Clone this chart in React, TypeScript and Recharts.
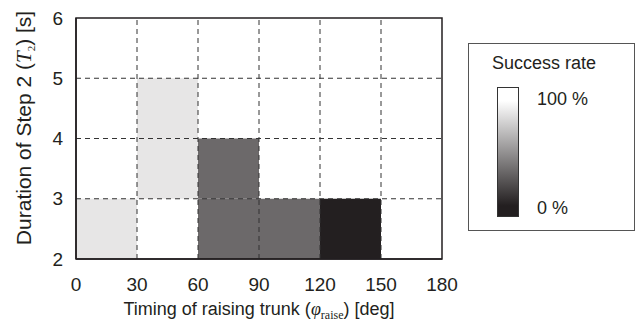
import { ComposedChart, XAxis, YAxis, ReferenceArea, ReferenceLine, Label, Scatter } from 'recharts';

// grid of trials: left edge of phi cell, lower edge of T2 cell, success rate [%]
const xTicks = [0, 30, 60, 90, 120, 150, 180];
const yTicks = [2, 3, 4, 5, 6];
const cellPhi = [0, 30, 30, 60, 60, 90, 120];
const cellT2 = [2, 3, 4, 2, 3, 2, 2];
const cellRate = [89, 89, 89, 33, 33, 33, 0];
const legendTitle = 'Success rate';
const legendTop = '100 %';
const legendBottom = '0 %';

const INK = '#231f20';
const FONT = '"Liberation Sans", Arial, sans-serif';
const SERIF = '"Liberation Serif", "Times New Roman", serif';

// black (#231f20) -> white, by rate
function grey(rate: number) {
    const t = rate / 100;
    const ch = (lo: number) => Math.round(lo + (255 - lo) * t).toString(16).padStart(2, '0');
    return '#' + ch(35) + ch(31) + ch(32);
}

const cells = cellPhi.map((x, i) => ({ x1: x, x2: x + 30, y1: cellT2[i], y2: cellT2[i] + 1, fill: grey(cellRate[i]) }));
// cell centres, only so the axes have data
const centres = cells.map(c => ({ x: (c.x1 + c.x2) / 2, y: (c.y1 + c.y2) / 2 }));

function XLabel(props: any) {
    const { viewBox } = props;
    const cx = viewBox.x + viewBox.width / 2;
    return (
        <text x={cx} y={viewBox.y + 56} textAnchor="middle" fontFamily={FONT} fontSize={18} fill={INK}>
            Timing of raising trunk (
            <tspan fontFamily={SERIF} fontStyle="italic">φ</tspan>
            <tspan fontFamily={SERIF} fontSize={12} dy={4}>raise</tspan>
            <tspan dy={-4}>) [deg]</tspan>
        </text>
    );
}

function YLabel() {
    const cy = 128;
    const cx = 31;
    return (
        <text x={cx} y={cy} transform={`rotate(-90 ${cx} ${cy})`} textAnchor="middle" fontFamily={FONT} fontSize={21} fill={INK}>
            Duration of Step 2 (
            <tspan fontFamily={SERIF} fontStyle="italic">T</tspan>
            <tspan fontFamily={SERIF} fontSize={11} dy={4}>2</tspan>
            <tspan dy={-4}>) [s]</tspan>
        </text>
    );
}

export default function App() {
    const tick = { fontFamily: FONT, fontSize: 19, fill: INK };
    return (
        <div style={{ position: 'absolute', left: 0, top: 0, width: 639, height: 328, background: '#fff' }}>
            <ComposedChart width={639} height={328} margin={{ top: 18, right: 197, bottom: 0, left: 0 }}>
                <XAxis
                    type="number"
                    dataKey="x"
                    domain={[0, 180]}
                    ticks={xTicks}
                    tickLine={false}
                    tickMargin={13}
                    height={69}
                    tick={tick}
                    stroke={INK}
                    strokeWidth={1.5}
                    interval={0}
                    allowDataOverflow
                >
                    <Label content={<XLabel />} />
                </XAxis>
                <YAxis
                    type="number"
                    dataKey="y"
                    domain={[2, 6]}
                    ticks={yTicks}
                    tickLine={false}
                    tickMargin={7}
                    width={76}
                    tick={tick}
                    stroke={INK}
                    strokeWidth={1.5}
                    interval={0}
                    allowDataOverflow
                >
                    <Label content={<YLabel />} />
                </YAxis>

                <Scatter data={centres} isAnimationActive={false} shape={() => <g />} />

                {cells.map((c, i) => (
                    <ReferenceArea key={'c' + i} x1={c.x1} x2={c.x2} y1={c.y1} y2={c.y2} fill={c.fill} fillOpacity={1} stroke="none" ifOverflow="visible" />
                ))}

                {xTicks.slice(1, -1).map(v => (
                    <ReferenceLine key={'vx' + v} x={v} stroke="#333" strokeDasharray="5 4" strokeWidth={1} />
                ))}
                {yTicks.slice(1, -1).map(v => (
                    <ReferenceLine key={'hy' + v} y={v} stroke="#333" strokeDasharray="5 4" strokeWidth={1} />
                ))}

                <ReferenceArea x1={0} x2={180} y1={2} y2={6} fill="none" stroke={INK} strokeWidth={1.5} ifOverflow="visible" />
            </ComposedChart>

            <div style={{ position: 'absolute', left: 468, top: 43, width: 167, height: 188, border: '1px solid #555', boxSizing: 'border-box', fontFamily: FONT, color: INK }}>
                <div style={{ position: 'absolute', left: 23, top: 9, fontSize: 18, whiteSpace: 'nowrap' }}>{legendTitle}</div>
                <div style={{ position: 'absolute', left: 28, top: 43, width: 22, height: 130, border: '1px solid #333', boxSizing: 'border-box', background: `linear-gradient(to bottom, #ffffff 10%, ${INK} 92%)` }} />
                <div style={{ position: 'absolute', left: 68, top: 45, fontSize: 18, whiteSpace: 'nowrap' }}>{legendTop}</div>
                <div style={{ position: 'absolute', left: 68, top: 154, fontSize: 18, whiteSpace: 'nowrap' }}>{legendBottom}</div>
            </div>
        </div>
    );
}
